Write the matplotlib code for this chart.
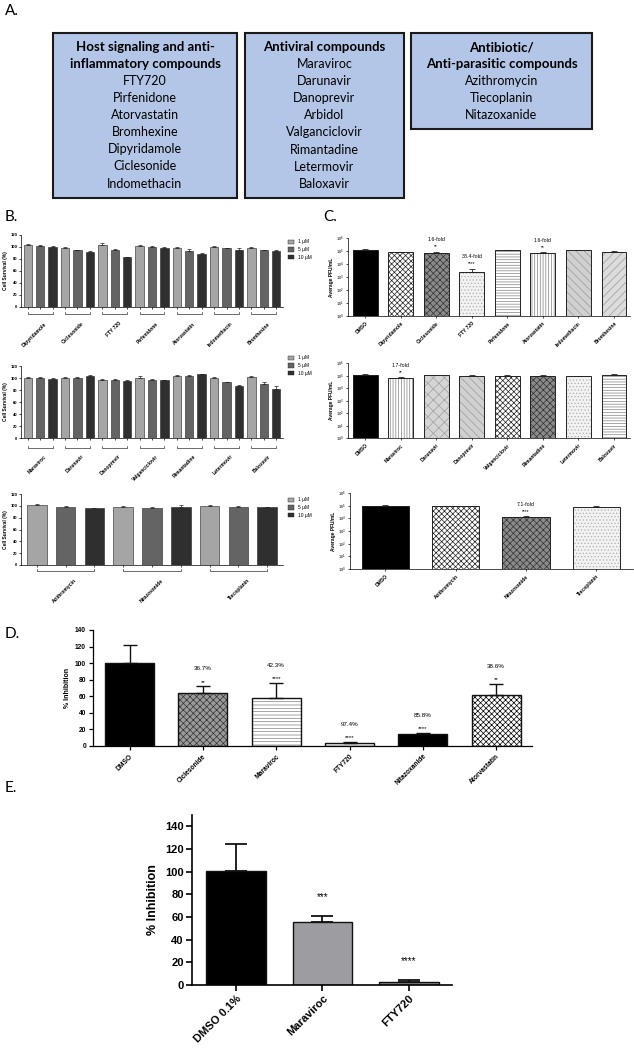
import numpy as np
import matplotlib
matplotlib.use("Agg")
import matplotlib.pyplot as plt
from matplotlib.patches import Rectangle
from matplotlib.ticker import LogLocator, LogFormatterMathtext, NullLocator

# ---- panel A: compound classes
box_titles = [["Host signaling and anti-", "inflammatory compounds"],
              ["Antiviral compounds"],
              ["Antibiotic/", "Anti-parasitic compounds"]]
box_items = [["FTY720", "Pirfenidone", "Atorvastatin", "Bromhexine",
              "Dipyridamole", "Ciclesonide", "Indomethacin"],
             ["Maraviroc", "Darunavir", "Danoprevir", "Arbidol",
              "Valganciclovir", "Rimantadine", "Letermovir", "Baloxavir"],
             ["Azithromycin", "Tiecoplanin", "Nitazoxanide"]]

# ---- panel B: cell survival (%) at 1, 5, 10 uM
b1_drugs = ["Dipyridamole", "Ciclesonide", "FTY 720", "Pirfenidone",
            "Atorvastatin", "Indomethacin", "Bromhexine"]
b1_1uM = [103, 98, 103, 101, 97, 100, 98]
b1_5uM = [101, 94, 94, 100, 92, 97, 94]
b1_10uM = [99, 91, 82, 98, 87, 95, 93]
b1_err1 = [1, 1.5, 3.5, 1.5, 2, 1, 1]
b1_err5 = [2, 1, 1.5, 1, 4, 0.8, 1]
b1_err10 = [2, 1, 1.5, 2, 3, 2, 1]

b2_drugs = ["Maraviroc", "Darunavir", "Danoprevir", "Valganciclovir",
            "Rimantadine", "Letermovir", "Baloxavir"]
b2_1uM = [100, 100, 97, 100, 103, 100, 102]
b2_5uM = [100, 100, 97, 97, 104, 93, 90]
b2_10uM = [99, 103, 95, 96, 106, 86, 82]
b2_err1 = [1, 1, 1, 3, 1.5, 1.5, 1.5]
b2_err5 = [1, 1, 1, 2, 1, 1, 4]
b2_err10 = [1, 2, 1, 1.5, 1, 3, 5]

b3_drugs = ["Azithromycin", "Nitazoxanide", "Tiecoplanin"]
b3_1uM = [102, 98, 99]
b3_5uM = [98, 97, 98]
b3_10uM = [96, 98, 98]
b3_err1 = [1, 1, 2.5]
b3_err5 = [1.5, 0.8, 1]
b3_err10 = [1, 4, 0.8]

doses = ["1 \u00b5M", "5 \u00b5M", "10 \u00b5M"]

# ---- panel C: average PFU/mL
c1_names = ["DMSO", "Dipyridamole", "Ciclesonide", "FTY 720", "Pirfenidone",
            "Atorvastatin", "Indomethacin", "Bromhexine"]
c1_pfu = [1.2e5, 8.0e4, 7.0e4, 2.4e3, 1.1e5, 6.8e4, 1.1e5, 8.5e4]
c1_err = [1.5e4, 5e3, 1.2e4, 1.6e3, 1.2e4, 1e4, 1e4, 1.5e4]
c1_fold = ["", "", "1.6-fold", "38.4-fold", "", "1.6-fold", "", ""]
c1_sig = ["", "", "**", "****", "", "**", "", ""]

c2_names = ["DMSO", "Maraviroc", "Darunavir", "Danoprevir", "Valganciclovir",
            "Rimantadine", "Letermovir", "Baloxavir"]
c2_pfu = [1.15e5, 6.0e4, 1.1e5, 9.5e4, 9.5e4, 9.5e4, 8.5e4, 1.15e5]
c2_err = [1.5e4, 1.4e4, 1e4, 8e3, 1e4, 1e4, 8e3, 1e4]
c2_fold = ["", "1.7-fold", "", "", "", "", "", ""]
c2_sig = ["", "**", "", "", "", "", "", ""]

c3_names = ["DMSO", "Azithromycin", "Nitazoxanide", "Tiecoplanin"]
c3_pfu = [9.5e4, 9.0e4, 1.3e4, 8.5e4]
c3_err = [1.2e4, 1e4, 1.5e3, 8e3]
c3_fold = ["", "", "7.1-fold", ""]
c3_sig = ["", "", "****", ""]

# ---- panel D: % inhibition
d_names = ["DMSO", "Ciclesonide", "Maraviroc", "FTY720", "Nitazoxanide", "Atorvastatin"]
d_vals = [100.5, 64, 58, 3.6, 14.5, 62]
d_err = [21.5, 8, 18, 1.2, 1, 13]
d_pct = ["", "36.7%", "42.3%", "97.4%", "85.8%", "38.6%"]
d_sig = ["", "**", "****", "****", "****", "**"]

# ---- panel E
e_names = ["DMSO 0.1%", "Maraviroc", "FTY720"]
e_vals = [101, 56, 3]
e_err = [23, 4.5, 1.2]
e_sig = ["", "***", "****"]

W, H = 634, 1050
fig = plt.figure(figsize=(W / 100, H / 100), dpi=100)
plt.rcParams['font.family'] = 'Liberation Sans'
plt.rcParams['hatch.linewidth'] = 0.5


def axes_px(l, t, r, b):
    return fig.add_axes([l / W, 1 - b / H, (r - l) / W, (b - t) / H])


def fy(y):
    return 1 - y / H


def style_axis(ax, lw):
    for s in ["top", "right"]:
        ax.spines[s].set_visible(False)
    for s in ["left", "bottom"]:
        ax.spines[s].set_linewidth(lw)
    ax.tick_params(width=lw)


# panel letters
for lab, x, y in [("A.", 5, 11), ("B.", 5, 217), ("C.", 323, 217),
                  ("D.", 5, 634), ("E.", 5, 788)]:
    fig.text(x / W, fy(y), lab, fontsize=11, family="Lato", va="center")

# ---- A
boxes = [(53, 33, 237, 198), (245, 33, 404, 198), (411, 33, 592, 129)]
for (l, t, r, b), titles, items in zip(boxes, box_titles, box_items):
    fig.add_artist(Rectangle((l / W, fy(b)), (r - l) / W, (b - t) / H,
                             transform=fig.transFigure, facecolor="#b4c6e7",
                             edgecolor="#1a1a1a", lw=1.5))
    cx = (l + r) / 2 / W
    y = 47
    for s in titles:
        fig.text(cx, fy(y), s, ha="center", va="center", fontsize=9.5,
                 family="Lato", weight="bold")
        y += 17
    for s in items:
        fig.text(cx, fy(y), s, ha="center", va="center", fontsize=9,
                 family="Lato")
        y += 17.1

# ---- B
bar_greys = ["#a5a5a5", "#646464", "#2f2f2f"]


def panel_b(top, bottom, names, v1, v5, v10, e1, e5, e10, leg_y, brk, lab_y):
    ax = axes_px(21, top, 283, bottom)
    n = len(names)
    vals = np.column_stack([v1, v5, v10]).ravel()
    errs = np.column_stack([e1, e5, e10]).ravel()
    x = np.arange(3 * n)
    cols = bar_greys * n
    ax.bar(x, vals, 0.68, color=cols, edgecolor="#222", linewidth=0.4)
    ax.errorbar(x, vals, yerr=[np.zeros_like(errs), errs], fmt="none",
                ecolor="#222", elinewidth=0.5, capsize=1.2, capthick=0.5)
    ax.set_ylim(0, 120)
    ax.set_yticks(range(0, 121, 20))
    ax.set_xlim(-0.55, 3 * n - 0.45)
    ax.set_xticks(x)
    ax.set_xticklabels([])
    style_axis(ax, 0.5)
    ax.tick_params(length=1.5, labelsize=3, pad=1)
    for t in ax.get_yticklabels():
        t.set_fontweight("bold")
    ax.set_ylabel("Cell Survival (%)", fontsize=3.5, fontweight="bold", labelpad=2)
    tr = ax.get_xaxis_transform()
    for g, name in enumerate(names):
        x0, x1 = 3 * g, 3 * g + 2
        ax.plot([x0, x0, x1, x1], [brk + 0.03, brk, brk, brk + 0.03],
                transform=tr, color="#333", lw=0.5, clip_on=False)
        ax.text(x0 + 1.3, lab_y, name, transform=tr, rotation=45, ha="right",
                va="top", rotation_mode="anchor", fontsize=3.6, fontweight="bold")
    for i, (d, c) in enumerate(zip(doses, bar_greys)):
        yy = leg_y + 7.5 * i
        fig.add_artist(Rectangle((288 / W, fy(yy + 2.2)), 6 / W, 4.4 / H,
                                 transform=fig.transFigure, facecolor=c,
                                 edgecolor="#222", lw=0.3))
        fig.text(298 / W, fy(yy), d, fontsize=3.5, va="center")


panel_b(234.7, 306.7, b1_drugs, b1_1uM, b1_5uM, b1_10uM,
        b1_err1, b1_err5, b1_err10, 242, -0.1, -0.2)
panel_b(366, 438, b2_drugs, b2_1uM, b2_5uM, b2_10uM,
        b2_err1, b2_err5, b2_err10, 358, -0.14, -0.22)
panel_b(494, 565, b3_drugs, b3_1uM, b3_5uM, b3_10uM,
        b3_err1, b3_err5, b3_err10, 500, -0.08, -0.18)

# ---- C
styles = {
    "DMSO": ("#000000", None, "#000000"),
    "Dipyridamole": ("#ffffff", "xxxxxx", "#222222"),
    "Ciclesonide": ("#8a8a8a", "xxxxx", "#333333"),
    "FTY 720": ("#f2f2f2", ".....", "#b0b0b0"),
    "Pirfenidone": ("#ffffff", "------", "#808080"),
    "Atorvastatin": ("#ffffff", "||||||", "#808080"),
    "Indomethacin": ("#d0d0d0", "\\\\\\\\", "#9a9a9a"),
    "Bromhexine": ("#dcdcdc", "////", "#9a9a9a"),
    "Maraviroc": ("#ffffff", "||||||", "#808080"),
    "Darunavir": ("#d5d5d5", "xxx", "#a0a0a0"),
    "Danoprevir": ("#d0d0d0", "\\\\\\\\", "#9a9a9a"),
    "Valganciclovir": ("#ffffff", "xxxxxx", "#222222"),
    "Rimantadine": ("#8a8a8a", "xxxxx", "#333333"),
    "Letermovir": ("#f2f2f2", ".....", "#b0b0b0"),
    "Baloxavir": ("#ffffff", "------", "#808080"),
    "Azithromycin": ("#ffffff", "xxxxxx", "#222222"),
    "Nitazoxanide": ("#8a8a8a", "xxxxx", "#333333"),
    "Tiecoplanin": ("#f2f2f2", ".....", "#b0b0b0"),
}


def panel_c(box, names, pfu, err, fold, sig, xl, width):
    ax = axes_px(*box)
    x = np.arange(len(names))
    for xi, n, v in zip(x, names, pfu):
        fc, hatch, hc = styles[n]
        ax.bar(xi, v - 1, width, bottom=1, color=fc, hatch=hatch,
               edgecolor=hc, linewidth=0)
        ax.bar(xi, v - 1, width, bottom=1, fill=False, edgecolor="#222",
               linewidth=0.7)
    ax.errorbar(x, pfu, yerr=[np.zeros(len(err)), err], fmt="none",
                ecolor="#222", elinewidth=0.6, capsize=2, capthick=0.6)
    ax.set_yscale("log")
    ax.set_ylim(1, 1e6)
    ax.yaxis.set_major_locator(LogLocator(base=10, numticks=10))
    ax.yaxis.set_major_formatter(LogFormatterMathtext())
    ax.yaxis.set_minor_locator(NullLocator())
    ax.set_xlim(*xl)
    ax.set_xticks(x)
    ax.set_xticklabels(names, rotation=45, ha="right", rotation_mode="anchor",
                       fontsize=3.6, fontweight="bold")
    style_axis(ax, 0.5)
    ax.tick_params(length=1.5, labelsize=3, pad=1)
    ax.tick_params(axis="x", labelsize=3.6, pad=2)
    ax.set_ylabel("Average PFU/mL", fontsize=3.5, fontweight="bold", labelpad=2)
    for xi, v, e, f, s in zip(x, pfu, err, fold, sig):
        if s:
            top = (v + e) * 2.5
            ax.text(xi, top, s, ha="center", va="center", fontsize=3.5)
            ax.text(xi, top * 3.5, f, ha="center", va="center", fontsize=3.8)


panel_c((348, 238, 630, 316), c1_names, c1_pfu, c1_err, c1_fold, c1_sig,
        (-0.48, 7.45), 0.7)
panel_c((348, 363, 630, 438), c2_names, c2_pfu, c2_err, c2_fold, c2_sig,
        (-0.48, 7.45), 0.7)
panel_c((350, 493, 633, 569), c3_names, c3_pfu, c3_err, c3_fold, c3_sig,
        (-0.5, 3.52), 0.67)

# ---- D
d_styles = [("#000000", None, "#000000"),
            ("#9a9a9a", "xxxxx", "#333333"),
            ("#ffffff", "-----", "#808080"),
            ("#eeeeee", ".....", "#999999"),
            ("#000000", None, "#000000"),
            ("#ffffff", "xxxxxx", "#000000")]
ax = axes_px(93, 630, 532, 746)
x = np.arange(len(d_names))
for xi, v, (fc, hatch, hc) in zip(x, d_vals, d_styles):
    ax.bar(xi, v, 0.67, color=fc, hatch=hatch, edgecolor=hc, linewidth=0)
    ax.bar(xi, v, 0.67, fill=False, edgecolor="#111", linewidth=1.0)
ax.errorbar(x, d_vals, yerr=[np.zeros(len(d_err)), d_err], fmt="none",
            ecolor="#111", elinewidth=1.0, capsize=5, capthick=1.0)
ax.set_ylim(0, 140)
ax.set_yticks(range(0, 141, 20))
ax.set_xlim(-0.5, 5.49)
ax.set_xticks(x)
ax.set_xticklabels(d_names, rotation=45, ha="right", rotation_mode="anchor",
                   fontsize=4.8, fontweight="bold")
style_axis(ax, 0.9)
ax.tick_params(length=3, labelsize=4.8, pad=2)
for t in ax.get_yticklabels():
    t.set_fontweight("bold")
ax.set_ylabel("% Inhibition", fontsize=5, fontweight="bold", labelpad=3)
for xi, v, e, p, s in zip(x, d_vals, d_err, d_pct, d_sig):
    if s:
        ys = v + e + 5
        ax.text(xi, ys, s, ha="center", va="center", fontsize=4.5)
        ax.text(xi, ys + 16, p, ha="center", va="center", fontsize=4.5)

# ---- E
e_colors = ["#000000", "#9d9da1", "#87878b"]
ax = axes_px(192, 815, 452, 985)
x = np.arange(len(e_names))
ax.bar(x, e_vals, 0.69, color=e_colors, edgecolor="#111", linewidth=1.0)
ax.errorbar(x, e_vals, yerr=[np.zeros(len(e_err)), e_err], fmt="none",
            ecolor="#111", elinewidth=1.3, capsize=8, capthick=1.3)
ax.set_ylim(0, 150)
ax.set_yticks(range(0, 141, 20))
ax.set_xlim(-0.51, 2.5)
ax.set_xticks(x)
ax.set_xticklabels(e_names, rotation=45, ha="right", rotation_mode="anchor",
                   fontsize=8, fontweight="bold")
style_axis(ax, 1.2)
ax.tick_params(length=4, labelsize=8, pad=2)
for t in ax.get_yticklabels():
    t.set_fontweight("bold")
ax.set_ylabel("% Inhibition", fontsize=9, fontweight="bold", labelpad=4)
for xi, v, e, s in zip(x, e_vals, e_err, e_sig):
    if s:
        ax.text(xi, v + e + 17, s, ha="center", va="center", fontsize=7)

fig.savefig("out.png", dpi=100)
